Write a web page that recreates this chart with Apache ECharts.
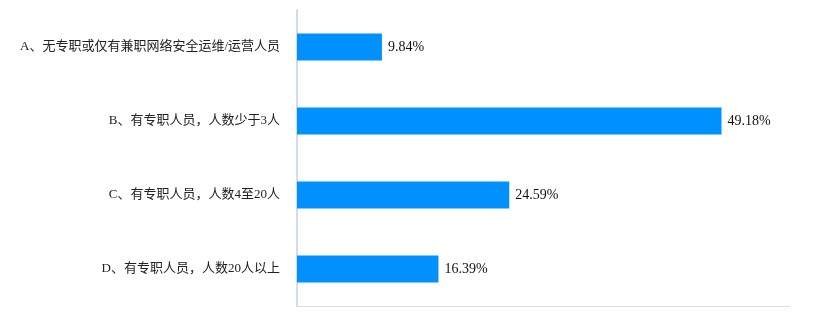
<!DOCTYPE html>
<html><head><meta charset="utf-8">
<script src="https://cdn.jsdelivr.net/npm/echarts@6/dist/echarts.min.js"></script>
<style>html,body{margin:0;padding:0;background:#fff}#c{width:831px;height:318px}</style>
</head><body><div id="c"></div>
<script>
var categories = ['A、无专职或仅有兼职网络安全运维/运营人员','B、有专职人员，人数少于3人','C、有专职人员，人数4至20人','D、有专职人员，人数20人以上'];
var values = [9.84, 49.18, 24.59, 16.39];
var font = '"Liberation Serif","Times New Roman","Noto Sans CJK SC",serif';
var chart = echarts.init(document.getElementById('c'));
chart.setOption({
  animation:false,
  grid:{left:297,right:42,top:10,bottom:12},
  xAxis:{type:'value',min:0,max:57,axisLabel:{show:false},splitLine:{show:false},axisTick:{show:false},
    axisLine:{show:true,lineStyle:{color:'#d3dcef',width:1}}},
  yAxis:{type:'category',inverse:true,data:categories,axisTick:{show:false},
    axisLine:{show:true,lineStyle:{color:'#d3dcef',width:2}},
    axisLabel:{margin:17,fontSize:13,color:'#222',fontFamily:font}},
  series:[{type:'bar',data:values,barWidth:27,itemStyle:{color:'#0091ff'},
    label:{show:true,position:'right',distance:6,fontSize:14,color:'#111',fontFamily:font,
      formatter:function(p){return p.value.toFixed(2)+'%';}}}]
});
</script></body></html>
